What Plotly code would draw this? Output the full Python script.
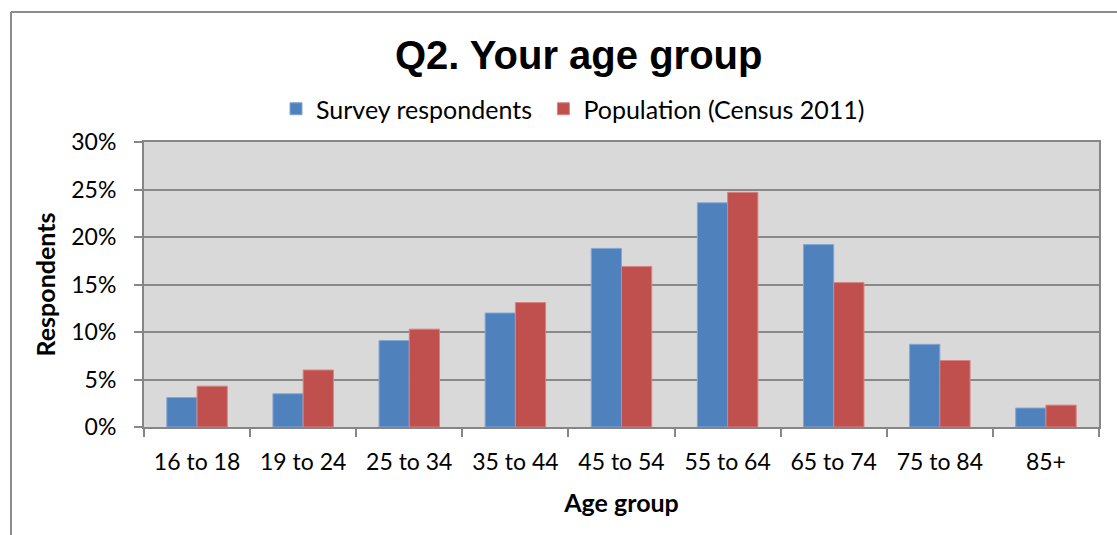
import plotly.graph_objects as go

categories = ["16 to 18", "19 to 24", "25 to 34", "35 to 44", "45 to 54",
              "55 to 64", "65 to 74", "75 to 84", "85+"]
survey = [3.1, 3.5, 9.1, 12.0, 18.8, 23.6, 19.2, 8.7, 2.0]
census = [4.3, 6.0, 10.3, 13.1, 16.9, 24.7, 15.2, 7.0, 2.3]
series_names = ["Survey respondents", "Population (Census 2011)"]
y_ticks = [0, 5, 10, 15, 20, 25, 30]
y_tick_labels = [f"{v}%" for v in y_ticks]

W, H = 1117, 535
L, R, T, B = 144, 1099, 142, 427

def px(x):
    return (x - L) / (R - L)

def py(y):
    return (B - y) / (B - T)

fig = go.Figure()
fig.add_trace(go.Bar(name=series_names[0] + "\u00a0", x=categories, y=survey,
                     hovertemplate="%{x}: %{y}%<extra>" + series_names[0] + "</extra>",
                     marker=dict(color="#4f81bd", line=dict(color="#86a6d2", width=1))))
fig.add_trace(go.Bar(name=series_names[1], x=categories, y=census,
                     hovertemplate="%{x}: %{y}%<extra>" + series_names[1] + "</extra>",
                     marker=dict(color="#c0504d", line=dict(color="#d68482", width=1))))

tickfont = dict(family="Lato", size=23, color="#000000")
titlefont = dict(family="Lato", size=25, color="#000000")

fig.update_layout(
    width=W, height=H,
    margin=dict(l=L, r=W - R, t=T, b=H - B, pad=0),
    paper_bgcolor="white",
    plot_bgcolor="#d9d9d9",
    barmode="group",
    bargap=0.43,
    bargroupgap=0,
    showlegend=True,
    legend=dict(orientation="h", x=px(276), y=py(109), xanchor="left", yanchor="middle",
                font=dict(family="Lato", size=25, color="#000000"),
                itemwidth=30, bgcolor="rgba(0,0,0,0)", traceorder="normal"),
    xaxis=dict(
        showline=True, linecolor="#868686", linewidth=2, mirror=True,
        ticks="outside", tickson="boundaries", ticklen=8, tickwidth=2, tickcolor="#868686",
        tickfont=tickfont, showgrid=False, ticklabelstandoff=13,
        title=dict(text="<b>Age group</b>", font=titlefont, standoff=21),
    ),
    yaxis=dict(
        range=[0, 30], tickvals=y_ticks, ticktext=y_tick_labels,
        showline=True, linecolor="#868686", linewidth=2, mirror=True,
        ticks="outside", ticklen=8, tickwidth=2, tickcolor="#868686",
        tickfont=tickfont, showgrid=True, gridcolor="#898989", gridwidth=2,
        zeroline=False, ticklabelstandoff=13,
        title=dict(text="<b>Respondents</b>", font=titlefont, standoff=9),
    ),
    annotations=[dict(text="<b>Q2. Your age group</b>", xref="paper", yref="paper",
                      x=px(578), y=py(55), xanchor="center", yanchor="middle",
                      showarrow=False,
                      font=dict(family="Liberation Sans", size=40, color="#000000"))],
    shapes=[
        dict(type="line", xref="paper", yref="paper", x0=px(11), x1=px(11), y0=py(12), y1=py(560),
             line=dict(color="#8c8c8c", width=2)),
        dict(type="line", xref="paper", yref="paper", x0=px(11), x1=px(1130), y0=py(12), y1=py(12),
             line=dict(color="#8c8c8c", width=2)),
    ],
)

fig.write_html("out.html", config={"displayModeBar": False},
               post_script="document.body.style.margin='0';")
